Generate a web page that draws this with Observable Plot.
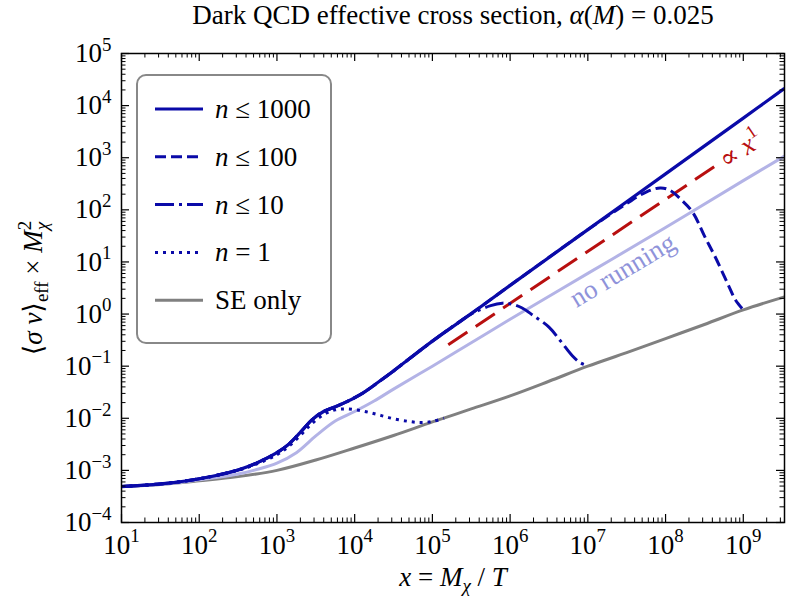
<!DOCTYPE html>
<html><head><meta charset="utf-8">
<script src="https://cdn.jsdelivr.net/npm/d3@7"></script>
<script src="https://cdn.jsdelivr.net/npm/@observablehq/plot@0.6"></script>
<style>
html,body{margin:0;padding:0;background:#fff;}
#chart{width:787px;height:605px;}
</style></head><body><div id="chart"></div>
<script>
// ---------------- data ----------------
const xDomain = [10, 3.39e9];
const yDomain = [1e-4, 1e5];

const xTicks = [1e1, 1e2, 1e3, 1e4, 1e5, 1e6, 1e7, 1e8, 1e9];
const xTickExp = ["1", "2", "3", "4", "5", "6", "7", "8", "9"];
const yTicks = [1e-4, 1e-3, 1e-2, 1e-1, 1e0, 1e1, 1e2, 1e3, 1e4, 1e5];
const yTickExp = ["−4", "−3", "−2", "−1", "0", "1", "2", "3", "4", "5"];

// n <= 1000 (solid)
const xN1000 = [10, 31.6, 100, 316, 562, 1000, 1410, 2000, 2820, 3980, 5620, 7940, 1.26e4, 2e4, 3.16e4, 1e5, 3.16e5, 1e6, 1e7, 1e8, 1e9, 3.39e9];
const yN1000 = [4.9e-4, 5.5e-4, 6.9e-4, 1.02e-3, 1.41e-3, 2.19e-3, 3.16e-3, 5.37e-3, 9.33e-3, 1.35e-2, 1.66e-2, 2.09e-2, 3.02e-2, 4.9e-2, 8.1e-2, 0.302, 1.02, 3.55, 41.7, 490, 5750, 21400];

// n <= 100 (dashed)
const xN100 = [10, 31.6, 100, 316, 562, 1000, 1410, 2000, 2820, 3980, 5620, 7940, 1.26e4, 2e4, 3.16e4, 1e5, 3.16e5, 1e6, 1e7, 3.16e7, 5.62e7, 8.51e7, 1.12e8, 1.58e8, 2.24e8, 3.16e8, 4.47e8, 6.31e8, 7.94e8, 1e9];
const yN100 = [4.9e-4, 5.5e-4, 6.9e-4, 1.02e-3, 1.41e-3, 2.19e-3, 3.16e-3, 5.37e-3, 9.33e-3, 1.35e-2, 1.66e-2, 2.09e-2, 3.02e-2, 4.9e-2, 8.1e-2, 0.302, 1.02, 3.55, 41.7, 132, 219, 263, 240, 158, 89, 31.6, 11.5, 3.8, 1.86, 1.2];

// n <= 10 (dash-dot)
const xN10 = [10, 31.6, 100, 316, 562, 1000, 1410, 2000, 2820, 3980, 5620, 7940, 1.26e4, 2e4, 3.16e4, 1e5, 1.78e5, 3.16e5, 5.62e5, 7.94e5, 1e6, 1.41e6, 2e6, 3.16e6, 4.47e6, 6.31e6, 7.94e6, 1e7];
const yN10 = [4.9e-4, 5.5e-4, 6.9e-4, 1.02e-3, 1.41e-3, 2.19e-3, 3.16e-3, 5.37e-3, 9.33e-3, 1.35e-2, 1.66e-2, 2.09e-2, 3.02e-2, 4.9e-2, 8.1e-2, 0.302, 0.562, 1.0, 1.45, 1.62, 1.58, 1.32, 0.93, 0.562, 0.302, 0.158, 0.117, 0.102];

// n = 1 (dotted)
const xN1 = [10, 31.6, 100, 316, 562, 1000, 1410, 2000, 2820, 3980, 5620, 7940, 1.26e4, 2e4, 3.16e4, 5.01e4, 7.08e4, 1e5, 1.41e5];
const yN1 = [4.9e-4, 5.5e-4, 6.9e-4, 1.0e-3, 1.35e-3, 2.0e-3, 2.88e-3, 4.68e-3, 7.94e-3, 1.17e-2, 1.45e-2, 1.51e-2, 1.38e-2, 1.17e-2, 9.8e-3, 8.7e-3, 8.3e-3, 8.7e-3, 1.0e-2];

// SE only (grey)
const xSE = [10, 31.6, 100, 316, 1000, 3160, 1e4, 3.16e4, 1e5, 3.16e5, 1e6, 3.16e6, 1e7, 3.16e7, 1e8, 3.16e8, 1e9, 3.39e9];
const ySE = [4.9e-4, 5.37e-4, 6.31e-4, 7.59e-4, 1.0e-3, 1.58e-3, 2.69e-3, 4.68e-3, 8.51e-3, 1.51e-2, 2.69e-2, 5.13e-2, 0.1, 0.182, 0.339, 0.631, 1.2, 2.14];

// no running (light)
const xNoRun = [10, 31.6, 100, 316, 562, 1000, 1778, 3162, 5623, 1e4, 1.778e4, 3.162e4, 1e5, 3.162e5, 1e6, 1e7, 1e8, 1e9, 3.39e9];
const yNoRun = [4.9e-4, 5.37e-4, 6.61e-4, 8.51e-4, 1.05e-3, 1.38e-3, 2.19e-3, 4.6e-3, 8.9e-3, 1.35e-2, 2.14e-2, 3.63e-2, 0.1, 0.282, 0.794, 6.03, 45.7, 363, 1072];

// proportional to x^1 guide (red long dashes)
const xProp = [1.6e5, 5.0e8];
const yProp = [0.257, 794];

const legendLabels = ["n ≤ 1000", "n ≤ 100", "n ≤ 10", "n = 1", "SE only"];

// ---------------- styling ----------------
const FONT = "'Liberation Serif', 'DejaVu Serif', serif";
const FS = 27;
const BLUE = "#0a0aa8", GREY = "#808080", LIGHT = "#b3b3e6", LIGHTTXT = "#8f93da", RED = "#b80f0f";
const W = 787, H = 605;
const M = {top: 53, right: 3, bottom: 83, left: 121};
const FW = W - M.left - M.right, FH = H - M.top - M.bottom;

const styles = {
  n1000: {stroke: BLUE, strokeWidth: 3.2},
  n100: {stroke: BLUE, strokeWidth: 3, strokeDasharray: "11,5"},
  n10: {stroke: BLUE, strokeWidth: 3, strokeDasharray: "19,5,3,5"},
  n1: {stroke: BLUE, strokeWidth: 3, strokeDasharray: "3,5"},
  se: {stroke: GREY, strokeWidth: 3}
};

const zipXY = (xs, ys) => xs.map((x, i) => ({x, y: ys[i]}));

// minor tick positions
const xMinor = [], yMinor = [];
for (let e = 1; e <= 9; e++) for (let m = 2; m <= 9; m++) { const v = m * 10 ** e; if (v <= xDomain[1]) xMinor.push(v); }
for (let e = -4; e <= 4; e++) for (let m = 2; m <= 9; m++) yMinor.push(m * 10 ** e);

const lineOpts = (s) => ({x: "x", y: "y", curve: "catmull-rom", clip: true, strokeLinecap: "butt", strokeLinejoin: "round", ...s});

const plot = Plot.plot({
  width: W, height: H,
  marginTop: M.top, marginRight: M.right, marginBottom: M.bottom, marginLeft: M.left,
  style: {fontFamily: FONT, fontSize: FS + "px", background: "white", color: "black"},
  x: {type: "log", domain: xDomain, axis: null},
  y: {type: "log", domain: yDomain, axis: null},
  marks: [
    Plot.line(zipXY(xSE, ySE), lineOpts(styles.se)),
    Plot.line(zipXY(xNoRun, yNoRun), lineOpts({stroke: LIGHT, strokeWidth: 3})),
    Plot.line(zipXY(xProp, yProp), lineOpts({stroke: RED, strokeWidth: 3, strokeDasharray: "23,10", curve: "linear"})),
    Plot.line(zipXY(xN1, yN1), lineOpts(styles.n1)),
    Plot.line(zipXY(xN10, yN10), lineOpts(styles.n10)),
    Plot.line(zipXY(xN100, yN100), lineOpts(styles.n100)),
    Plot.line(zipXY(xN1000, yN1000), lineOpts(styles.n1000)),
    Plot.text([{x: 2.8e7, y: 6.9}], {x: "x", y: "y", text: () => "no running", rotate: -31, fill: LIGHTTXT, fontSize: FS, textAnchor: "middle", lineAnchor: "middle"}),
    Plot.text([{x: 9.3e8, y: 1445}], {x: "x", y: "y", text: () => "RICH_PROP", rotate: -34, fill: RED, fontSize: FS, textAnchor: "middle", lineAnchor: "middle"}),
    // ticks (inward, all four sides)
    Plot.tickX(xTicks, {x: d => d, insetTop: FH - 8, stroke: "black", strokeWidth: 1.2}),
    Plot.tickX(xTicks, {x: d => d, insetBottom: FH - 8, stroke: "black", strokeWidth: 1.2}),
    Plot.tickX(xMinor, {x: d => d, insetTop: FH - 4.5, stroke: "black", strokeWidth: 1}),
    Plot.tickX(xMinor, {x: d => d, insetBottom: FH - 4.5, stroke: "black", strokeWidth: 1}),
    Plot.tickY(yTicks, {y: d => d, insetRight: FW - 8, stroke: "black", strokeWidth: 1.2}),
    Plot.tickY(yTicks, {y: d => d, insetLeft: FW - 8, stroke: "black", strokeWidth: 1.2}),
    Plot.tickY(yMinor, {y: d => d, insetRight: FW - 4.5, stroke: "black", strokeWidth: 1}),
    Plot.tickY(yMinor, {y: d => d, insetLeft: FW - 4.5, stroke: "black", strokeWidth: 1}),
    // tick labels
    Plot.text(xTicks, {x: d => d, frameAnchor: "bottom", dy: 12, lineAnchor: "top", textAnchor: "middle", fontSize: FS, text: (d, i) => "XT" + xTickExp[i]}),
    Plot.text(yTicks, {y: d => d, frameAnchor: "left", dx: -10, lineAnchor: "middle", textAnchor: "end", fontSize: FS, text: (d, i) => "YT" + yTickExp[i]}),
    // title and axis labels
    Plot.text([0], {frameAnchor: "top", dy: -38, lineAnchor: "middle", textAnchor: "middle", fontSize: FS, text: () => "RICH_TITLE"}),
    Plot.text([0], {frameAnchor: "bottom", dy: 55, lineAnchor: "middle", textAnchor: "middle", fontSize: FS, text: () => "RICH_XLABEL"}),
    Plot.text([0], {frameAnchor: "left", dx: -88, lineAnchor: "middle", textAnchor: "middle", rotate: -90, fontSize: FS, text: () => "RICH_YLABEL"}),
    Plot.frame({stroke: "black", strokeWidth: 1.5})
  ]
});
document.getElementById("chart").appendChild(plot);

// ---------------- rich text (italics, sub/superscripts) ----------------
const NS = "http://www.w3.org/2000/svg";
function rich(el, segs, fs) {
  el.textContent = "";
  let base = 0, lastSub = null;
  for (const s of segs) {
    const ts = document.createElementNS(NS, "tspan");
    const target = s.sup ? -0.42 * fs : s.sub ? 0.22 * fs : 0;
    if (target !== base) ts.setAttribute("dy", target - base);
    base = target;
    if (s.sup || s.sub) ts.setAttribute("font-size", 0.7 * fs);
    if (s.i) ts.setAttribute("font-style", "italic");
    if (s.stack && lastSub) ts.setAttribute("dx", -lastSub.getComputedTextLength());
    ts.textContent = s.t;
    el.appendChild(ts);
    lastSub = s.sub ? ts : null;
  }
}
const I = (t) => ({t, i: 1});
const nSegs = (label) => [I("n"), {t: label.slice(1)}];
const richMap = {
  RICH_TITLE: [{t: "Dark QCD effective cross section, "}, I("α"), {t: "("}, I("M"), {t: ") = 0.025"}],
  RICH_XLABEL: [I("x"), {t: " = "}, I("M"), {t: "χ", i: 1, sub: 1}, {t: " / "}, I("T")],
  RICH_YLABEL: [{t: "⟨"}, I("σ"), {t: " "}, I("v"), {t: "⟩"}, {t: "eff", sub: 1}, {t: " × "}, I("M"), {t: "χ", i: 1, sub: 1}, {t: "2", sup: 1, stack: 1}],
  RICH_PROP: [{t: "∝ "}, I("x"), {t: "1", sup: 1}]
};
d3.select(plot).selectAll("text").each(function () {
  const t = this.textContent;
  if (richMap[t]) rich(this, richMap[t], FS);
  else if (t.startsWith("XT") || t.startsWith("YT")) rich(this, [{t: "10"}, {t: t.slice(2), sup: 1}], FS);
});

// ---------------- legend ----------------
const lg = d3.select(plot).append("g").attr("font-family", FONT).attr("font-size", FS).attr("text-anchor", "start");
lg.append("rect").attr("x", 137).attr("y", 75).attr("width", 194).attr("height", 268).attr("rx", 9)
  .attr("fill", "white").attr("stroke", "#888").attr("stroke-width", 2);
const legendStyles = [styles.n1000, styles.n100, styles.n10, styles.n1, styles.se];
legendLabels.forEach((lab, i) => {
  const y = 109 + i * 47.8, s = legendStyles[i];
  lg.append("line").attr("x1", 155).attr("x2", 203).attr("y1", y).attr("y2", y)
    .attr("stroke", s.stroke).attr("stroke-width", s.strokeWidth).attr("stroke-dasharray", s.strokeDasharray || null);
  const tx = lg.append("text").attr("x", 215).attr("y", y + 9).attr("fill", "black");
  if (lab.startsWith("n")) rich(tx.node(), nSegs(lab), FS); else tx.text(lab);
});
</script></body></html>
